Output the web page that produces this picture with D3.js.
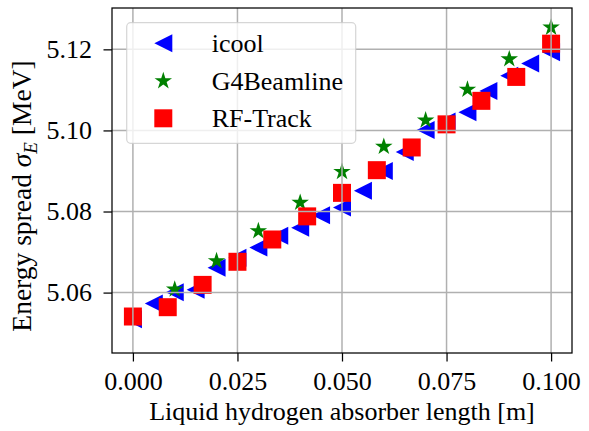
<!DOCTYPE html>
<html lang="en">
<head>
    <meta charset="UTF-8">
    <title>Energy spread</title>
    <style>
        body { margin: 0; background: #fff; }
        text { font-family: "Liberation Serif", "Times New Roman", serif; }
    </style>
</head>
<body>
<script src="https://d3js.org/d3.v7.min.js"></script>
<script>
    // values
    const icoolX = [0, 0.005, 0.01, 0.015, 0.02, 0.025, 0.03, 0.035, 0.04, 0.045, 0.05,
        0.055, 0.06, 0.065, 0.07, 0.075, 0.08, 0.085, 0.09, 0.095, 0.1];
    const icoolY = [5.0534, 5.0573, 5.0601, 5.0607, 5.0661, 5.0686, 5.0711, 5.0740, 5.0760, 5.0791, 5.0810,
        5.0851, 5.0900, 5.0947, 5.1001, 5.1022, 5.1045, 5.1097, 5.1135, 5.1165, 5.1193];

    const g4X = [0.01, 0.02, 0.03, 0.04, 0.05, 0.06, 0.07, 0.08, 0.09, 0.1];
    const g4Y = [5.0608, 5.0678, 5.0752, 5.0822, 5.0898, 5.0960, 5.1025, 5.1101, 5.1176, 5.1254];

    const rfX = [0, 0.00833, 0.01667, 0.025, 0.03333, 0.04167, 0.05, 0.05833, 0.06667, 0.075, 0.08333, 0.09167, 0.1];
    const rfY = [5.0541, 5.0564, 5.0619, 5.0676, 5.0731, 5.0788, 5.0846, 5.0902, 5.0958, 5.1015, 5.1073, 5.1132, 5.1214];

    const xTicks = [0, 0.025, 0.05, 0.075, 0.1];
    const yTicks = [5.06, 5.08, 5.10, 5.12];
    const seriesNames = ["icool", "G4Beamline", "RF-Track"];
    const seriesColors = ["#0000ff", "#008000", "#ff0000"];

    const margin = {top: 8, right: 17, bottom: 78, left: 112};
    const width = 589 - margin.left - margin.right;
    const height = 431 - margin.top - margin.bottom;

    const svg = d3.select("body").append("svg")
        .attr("width", 589)
        .attr("height", 431);

    const g = svg.append("g")
        .attr("transform", "translate(" + margin.left + "," + margin.top + ")");

    const xScale = d3.scaleLinear().domain([-0.005, 0.105]).range([0, width]);
    const yScale = d3.scaleLinear().domain([5.0451, 5.1302]).range([height, 0]);

    // marker shapes (centred on 0,0)
    const s = 18;
    const triPath = "M" + (-s / 2) + ",0L" + (s / 2) + "," + (-s / 2) + "L" + (s / 2) + "," + (s / 2) + "Z";
    const sqPath = "M" + (-s / 2) + "," + (-s / 2) + "h" + s + "v" + s + "h" + (-s) + "Z";
    function starPath(r) {
        const ri = r * 0.381966;
        let p = "";
        for (let i = 0; i < 10; i++) {
            const a = Math.PI / 5 * i;
            const rr = i % 2 === 0 ? r : ri;
            p += (i === 0 ? "M" : "L") + (rr * Math.sin(a)).toFixed(2) + "," + (-rr * Math.cos(a)).toFixed(2);
        }
        return p + "Z";
    }
    const stPath = starPath(9.2);
    const shapes = [triPath, stPath, sqPath];

    // Markers
    const series = [
        {x: icoolX, y: icoolY},
        {x: g4X, y: g4Y},
        {x: rfX, y: rfY}
    ];
    series.forEach((ser, k) => {
        g.append("g").selectAll("path")
            .data(ser.x.map((x, i) => [x, ser.y[i]]))
            .enter().append("path")
            .attr("d", shapes[k])
            .attr("fill", seriesColors[k])
            .attr("transform", d => "translate(" + xScale(d[0]) + "," + yScale(d[1]) + ")");
    });

    // Grid (drawn over markers)
    const grid = g.append("g").attr("stroke", "#b0b0b0").attr("stroke-width", 1.5);
    grid.selectAll(".gx").data(xTicks).enter().append("line")
        .attr("x1", d => xScale(d)).attr("x2", d => xScale(d))
        .attr("y1", 0).attr("y2", height);
    grid.selectAll(".gy").data(yTicks).enter().append("line")
        .attr("x1", 0).attr("x2", width)
        .attr("y1", d => yScale(d)).attr("y2", d => yScale(d));

    // Axes
    const xAxis = g.append("g")
        .attr("transform", "translate(0," + height + ")")
        .call(d3.axisBottom(xScale).tickValues(xTicks).tickFormat(d3.format(".3f")).tickSize(8.5).tickPadding(10));
    const yAxis = g.append("g")
        .call(d3.axisLeft(yScale).tickValues(yTicks).tickFormat(d3.format(".2f")).tickSize(8.5).tickPadding(11.5));
    [xAxis, yAxis].forEach(ax => {
        ax.select(".domain").remove();
        ax.selectAll("line").attr("stroke", "#000").attr("stroke-width", 1.25);
        ax.selectAll("text").attr("fill", "#000").style("font-size", "26px")
            .style("font-family", "'Liberation Serif', serif");
    });

    g.append("rect")
        .attr("width", width).attr("height", height)
        .attr("fill", "none").attr("stroke", "#000").attr("stroke-width", 1.25);

    // Axis labels
    svg.append("text")
        .attr("x", margin.left + width / 2)
        .attr("y", 420)
        .attr("text-anchor", "middle")
        .style("font-size", "26px")
        .text("Liquid hydrogen absorber length [m]");

    const yl = svg.append("text")
        .attr("transform", "translate(31,196) rotate(-90)")
        .attr("text-anchor", "middle")
        .style("font-size", "27.5px");
    yl.append("tspan").text("Energy spread ");
    yl.append("tspan").style("font-style", "italic").text("σ");
    yl.append("tspan").style("font-style", "italic").style("font-size", "19px").attr("dy", 6).text("E");
    yl.append("tspan").attr("dy", -6).text(" [MeV]");

    // Legend
    const lx = 126.7 - margin.left, ly = 22.7 - margin.top;
    const legend = g.append("g");
    legend.append("rect")
        .attr("x", lx).attr("y", ly)
        .attr("width", 229).attr("height", 120.6)
        .attr("rx", 4)
        .attr("fill", "#fff").attr("fill-opacity", 0.8)
        .attr("stroke", "#cccccc").attr("stroke-opacity", 0.8).attr("stroke-width", 1.25);
    const rowsY = [43.3, 81, 118.3];
    seriesNames.forEach((name, k) => {
        const cy = rowsY[k] - margin.top;
        legend.append("path")
            .attr("d", shapes[k])
            .attr("fill", seriesColors[k])
            .attr("transform", "translate(" + (163.3 - margin.left) + "," + cy + ")");
        legend.append("text")
            .attr("x", 211.7 - margin.left)
            .attr("y", cy)
            .attr("dy", "0.35em")
            .style("font-size", "26px")
            .text(name);
    });
</script>
</body>
</html>
